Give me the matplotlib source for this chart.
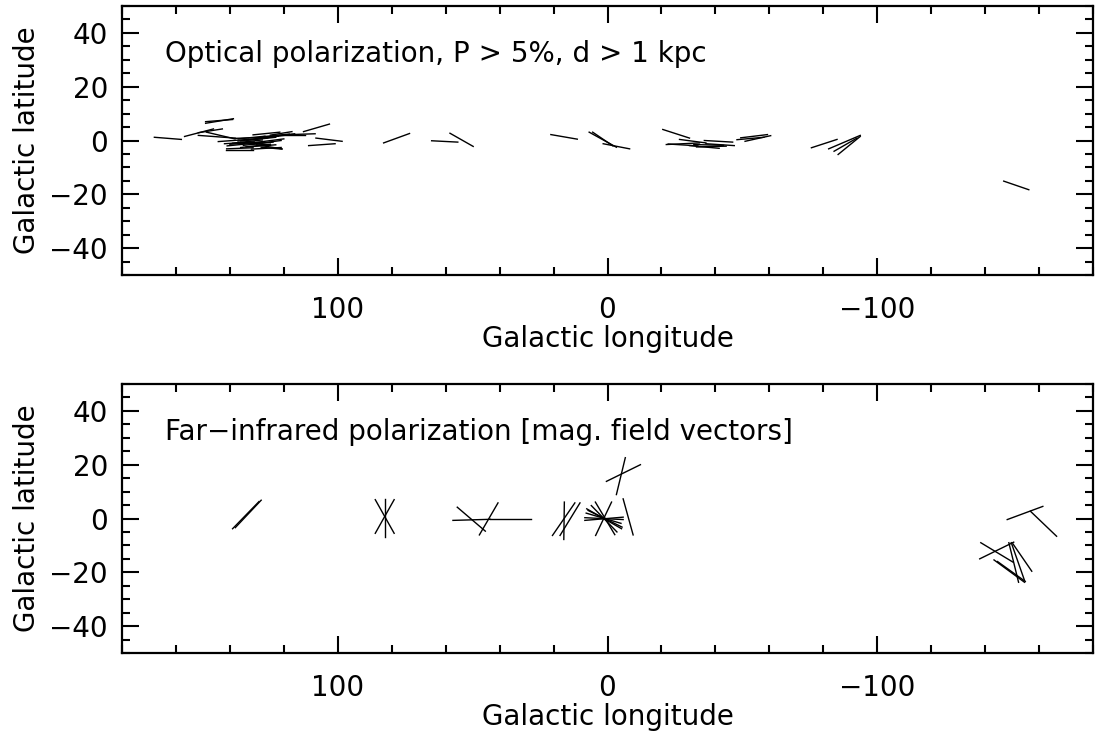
import numpy as np
import matplotlib
matplotlib.use("Agg")
import matplotlib.pyplot as plt
from matplotlib.ticker import MultipleLocator

# optical polarization segments: (l1, b1) -> (l2, b2)
opt_l1 = [168, 149, 149, 156.8, 151.7, 151.7, 148.7, 141.3, 141.2, 144.3, 142, 136.9, 131.4, 127, 125,
          130.1, 138, 134, 136, 123.4, 140, 128.4, 132, 112.7, 117.8, 108.1, 110.8, 83, 65.2, 58.4,
          139, 137, 135, 133, 131, 136, 134, 132, 130, 141, 128,
          21.0, 6.8, 5.5, 1.6, -20.5, -21.8, -22.5, -26.7, -30.4, -32, -35.9, -36.5, -33,
          -49.4, -48, -51, -75.6, -82, -85.5, -84, -146.9]
opt_b1 = [1.2, 6.4, 7.0, 1.5, 2.9, 1.9, 3.1, -3.5, -3.1, -0.4, -1.2, 0.6, 2.1, 1.2, 2.0,
          -1.6, 0.8, -2.4, -0.6, 1.9, -1.4, -2.5, -3.2, 3.3, 2.2, 0.9, -1.9, -0.9, -0.1, 2.7,
          -1.0, -0.2, -1.8, 0.4, -0.8, -2.6, 0.0, -1.4, 0.8, -2.0, 1.4,
          2.2, 3.1, 3.1, -1.2, 4.1, -1.5, -1.3, 0.4, -1.9, -1.5, 0.0, -1.2, -2.4,
          1.0, 0.3, -0.3, -2.7, -3.1, -5.2, -4.0, -15.1]
opt_l2 = [158, 138.7, 139, 146.1, 142.8, 138.1, 138.1, 131.4, 131.4, 133.2, 131, 127, 121.5, 116, 117,
          120.7, 126, 123, 125, 112.3, 128, 120.7, 121, 103.1, 108.4, 98.4, 101, 73.4, 55.5, 49.8,
          128, 126, 124, 122, 120, 125, 123, 121, 119, 131, 118,
          11.2, -3.3, -2.0, -8.2, -30.4, -34.1, -33.5, -36.5, -41.4, -43, -46.4, -47, -44,
          -59.3, -58, -60.5, -85.1, -93.7, -93.7, -92.5, -156.2]
opt_b2 = [0.4, 8.1, 7.8, 4.3, 4.3, 0.9, 0.6, -3.5, -2.7, 0.4, -0.5, 1.6, 3.1, 2.5, 3.3,
          -3.1, 1.2, -1.6, -1.8, 1.9, -0.6, -3.2, -2.6, 6.1, 2.5, -0.3, -1.2, 2.6, -0.6, -2.2,
          0.2, 1.0, -0.6, 1.6, 0.6, -1.4, 1.2, 0.0, 2.0, -1.0, 2.4,
          0.5, -2.5, -2.0, -3.1, 0.9, -0.9, -2.0, -0.9, -2.9, -1.8, -0.6, -1.9, -2.1,
          2.2, 1.2, 1.8, 0.4, 1.9, 1.5, 0.9, -18.3]

# far-infrared polarization segments
fir_l1 = [139, 138, 86.1, 82.4, 79.1, 55.7, 47.5, 57.3, 43.5, 20.4, 16, 17.6,
          4.5, -1.5, 8.4, 7.7, 7.2, 7.9, 8.4, 6.0, -5.8, -6.6, 0.4,
          -148.2, -156.8, -138.4, -138, -148.8, -149.7, -150.3, -143.3, -144.6]
fir_b1 = [-3.8, -3.4, 7.0, 7.3, 7.0, 4.2, -6.1, -0.7, 0.0, -6.3, 6.1, -6.3,
          6.1, 6.1, -0.7, 3.6, 3.0, 2.0, 0.3, 4.8, 7.3, 22.6, 13.8,
          -0.4, 2.7, -9.0, -15.0, -9.0, -9.0, -9.4, -15.4, -16.0]
fir_l2 = [129.2, 128.4, 79.1, 82.4, 86.1, 45.3, 40.6, 43.4, 28.2, 12.1, 16.2, 10.2,
          -2.7, 4.4, -5.8, -5.2, -5.4, -5.0, -5.8, -3.5, -9.5, -3.3, -12.2,
          -161.4, -166.5, -150.3, -150.6, -152.4, -154.6, -157.3, -154.6, -154.9]
fir_b2 = [6.3, 6.8, -5.5, -6.7, -5.5, -4.7, 5.8, -0.3, 0.0, 5.8, -7.8, 5.8,
          -6.0, -6.3, 0.5, -3.8, -3.2, -1.8, -0.4, -5.0, -6.1, 8.9, 20.0,
          4.5, -6.6, -16.2, -8.8, -23.7, -23.0, -19.6, -23.7, -23.4]

titles = ["Optical polarization, P > 5%, d > 1 kpc",
          "Far\u2212infrared polarization [mag. field vectors]"]

plt.rcParams['font.family'] = 'DejaVu Sans'
plt.rcParams['axes.unicode_minus'] = True

fig = plt.figure(figsize=(11.05, 7.36), dpi=100)
W, H = 1105, 736
ax1 = fig.add_axes([122 / W, 1 - 275 / H, 971 / W, 269 / H])
ax2 = fig.add_axes([122 / W, 1 - 653 / H, 971 / W, 269 / H])

panels = [(ax1, opt_l1, opt_b1, opt_l2, opt_b2), (ax2, fir_l1, fir_b1, fir_l2, fir_b2)]
for k, (ax, l1, b1, l2, b2) in enumerate(panels):
    for i in range(len(l1)):
        ax.plot([l1[i], l2[i]], [b1[i], b2[i]], color='black', lw=1.0)
    ax.set_xlim(180, -180)
    ax.set_ylim(-50, 50)
    ax.xaxis.set_major_locator(MultipleLocator(100))
    ax.xaxis.set_minor_locator(MultipleLocator(20))
    ax.yaxis.set_major_locator(MultipleLocator(20))
    ax.yaxis.set_minor_locator(MultipleLocator(5))
    ax.tick_params(which='both', direction='in', top=True, right=True, width=1.5,
                   labelsize=20)
    ax.tick_params(which='major', length=12)
    ax.tick_params(which='minor', length=6)
    ax.tick_params(axis='x', pad=15)
    ax.tick_params(axis='y', pad=10)
    for s in ax.spines.values():
        s.set_linewidth(1.6)
    ax.set_xlabel("Galactic longitude", fontsize=20, labelpad=1)
    ax.set_ylabel("Galactic latitude", fontsize=20, labelpad=6)
    ax.text(0.044, 0.79, titles[k], transform=ax.transAxes, fontsize=20,
            ha='left', va='baseline')

fig.savefig("out.png", dpi=100)
